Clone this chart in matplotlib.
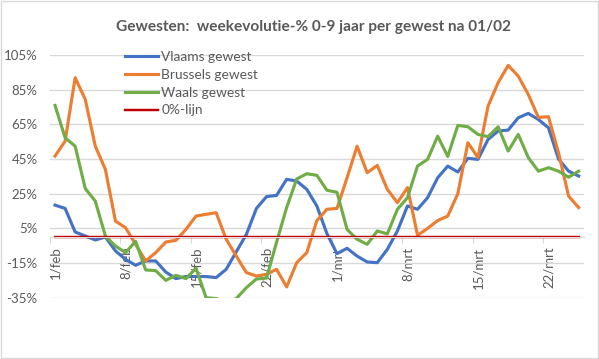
import matplotlib
matplotlib.use('agg')
import matplotlib.pyplot as plt
import numpy as np

# weekly evolution (%) of 0-9 year olds, one value per day from 1/feb to 25/mrt
vlaams = [18.4, 16.5, 2.9, 0.6, -1.7, 0.0, -8.0, -12.9, -16.3, -13.8,
          -13.8, -20.2, -24.0, -22.8, -22.8, -22.8, -23.4, -18.6, -8.5, 1.5,
          16.5, 23.3, 24.0, 33.3, 32.3, 27.5, 17.9, 2.0, -9.6, -6.5,
          -11.0, -14.4, -14.8, -7.1, 3.5, 17.9, 16.0, 22.7, 34.2, 40.9,
          37.5, 45.4, 44.8, 56.3, 61.1, 61.7, 68.8, 71.3, 67.8, 63.0,
          45.0, 38.0, 35.2]
brussels = [46.7, 55.3, 91.9, 79.4, 52.4, 39.0, 9.2, 5.4, -4.2, -13.8,
            -9.0, -2.9, -1.9, 4.4, 12.1, 13.1, 14.0, -1.3, -11.0, -20.5,
            -22.5, -21.5, -18.6, -28.8, -14.8, -9.0, 9.5, 16.0, 16.5, 34.2,
            52.4, 37.1, 41.3, 27.5, 19.8, 28.5, 1.0, 5.0, 9.5, 12.1,
            25.0, 54.4, 45.8, 75.5, 89.0, 99.0, 92.8, 82.2, 69.0, 69.4,
            48.6, 23.6, 17.0]
waals = [75.9, 57.3, 52.4, 28.0, 20.7, 0.6, -5.2, -9.0, -2.5, -19.0,
         -19.4, -25.0, -22.1, -24.0, -18.0, -35.0, -35.5, -37.5, -35.5, -29.2,
         -24.2, -23.7, -3.0, 17.0, 33.5, 36.5, 35.6, 27.0, 25.8, 4.4,
         -1.3, -4.2, 3.5, 1.8, 16.0, 22.7, 41.0, 44.8, 58.2, 46.5,
         64.4, 63.6, 59.2, 57.9, 63.6, 49.6, 59.2, 45.8, 38.0, 40.0,
         38.0, 34.5, 38.0]
nul_lijn = [0.0] * len(vlaams)

tick_labels = ["1/feb", "8/feb", "15/feb", "22/feb", "1/mrt", "8/mrt", "15/mrt", "22/mrt"]
y_ticks = [-35, -15, 5, 25, 45, 65, 85, 105]

GRAY = '#595959'
plt.rcParams['font.family'] = ['Lato', 'DejaVu Sans']

fig = plt.figure(figsize=(5.99, 3.59), dpi=100)
ax = fig.add_axes([50 / 599, 1 - 297.7 / 359, 533.7 / 599, 242.7 / 359])

x = np.arange(len(vlaams))
lw = 2.25
ax.plot(x, vlaams, color='#4472C4', lw=lw, label='Vlaams gewest')
ax.plot(x, brussels, color='#ED7D31', lw=lw, label='Brussels gewest')
ax.plot(x, waals, color='#70AD47', lw=lw, label='Waals gewest')
ax.plot(x, nul_lijn, color='#C00000', lw=1.75, label='0%-lijn')

ax.set_xlim(-0.5, len(vlaams) - 0.5)
ax.set_ylim(-35, 105)
ax.set_yticks(y_ticks)
ax.set_yticklabels([f"{v}%" for v in y_ticks])
ax.yaxis.grid(True, color='#D9D9D9', lw=1)
ax.set_axisbelow(True)
ax.tick_params(axis='y', length=0, pad=9, labelsize=9.5, labelcolor=GRAY)

# category axis crosses at 0, tick marks between categories
for s in ['left', 'right', 'top']:
    ax.spines[s].set_visible(False)
ax.spines['bottom'].set_position(('data', 0))
ax.spines['bottom'].set_color('#D9D9D9')
label_pos = np.arange(len(tick_labels)) * 7
ax.set_xticks(label_pos - 0.5)
ax.set_xticklabels([])
ax.set_xticks(label_pos, minor=True)
ax.set_xticklabels(tick_labels, minor=True, rotation=90, va='top', ha='center')
ax.tick_params(axis='x', which='major', length=4, color='#D9D9D9', direction='out')
ax.tick_params(axis='x', which='minor', length=0, pad=7, labelsize=9.5, labelcolor=GRAY)

ax.legend(loc='upper left', bbox_to_anchor=(125 / 599, 1 - 51 / 359),
          bbox_transform=fig.transFigure, frameon=False, fontsize=9.9,
          handlelength=2.4, handletextpad=0.25, labelspacing=0.42,
          borderpad=0, borderaxespad=0, labelcolor=GRAY)

fig.text(314 / 599, 1 - 27 / 359, "Gewesten:  weekevolutie-% 0-9 jaar per gewest na 01/02",
         ha='center', va='center', fontsize=11.1, fontweight='bold', color=GRAY)

fig.patches.append(plt.Rectangle((0.001, 0.002), 0.997, 0.996, transform=fig.transFigure,
                                 fill=False, edgecolor='#D9D9D9', lw=1))

fig.savefig('out.png', dpi=100)
